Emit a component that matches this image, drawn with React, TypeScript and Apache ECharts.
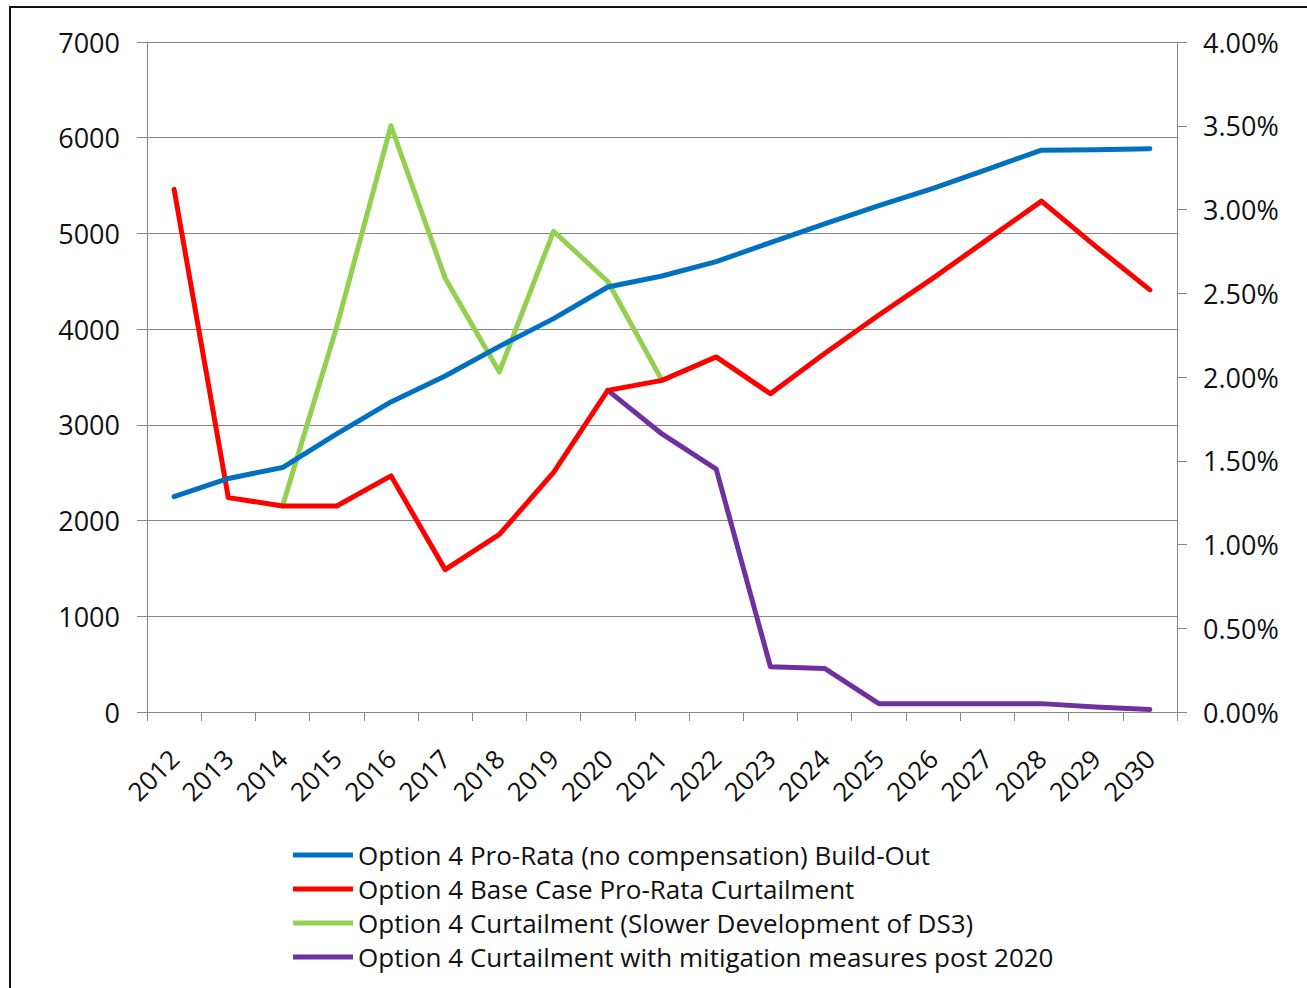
import React, { useEffect, useRef } from "react";
import * as echarts from "echarts";

// Category axis
const years = [
  "2012", "2013", "2014", "2015", "2016", "2017", "2018", "2019", "2020", "2021",
  "2022", "2023", "2024", "2025", "2026", "2027", "2028", "2029", "2030",
];

// Left axis: installed build-out (MW)
const buildOut = [
  2249, 2440, 2554, 2905, 3240, 3510, 3820, 4110, 4440, 4555,
  4705, 4905, 5100, 5290, 5470, 5670, 5870, 5875, 5884,
];

// Right axis: curtailment (%)
const baseCase = [
  3.12, 1.28, 1.23, 1.23, 1.41, 0.85, 1.06, 1.43, 1.92, 1.98,
  2.12, 1.9, 2.14, 2.37, 2.59, 2.82, 3.05, 2.78, 2.52,
];
const slowerDs3 = [
  null, null, 1.23, 2.3, 3.5, 2.59, 2.03, 2.87, 2.57, 1.98,
  null, null, null, null, null, null, null, null, null,
];
const mitigation = [
  null, null, null, null, null, null, null, null, 1.92, 1.66,
  1.45, 0.27, 0.26, 0.05, 0.05, 0.05, 0.05, 0.03, 0.015,
];

const seriesNames = [
  "Option 4 Pro-Rata (no compensation) Build-Out",
  "Option 4 Base Case Pro-Rata Curtailment",
  "Option 4 Curtailment (Slower Development of DS3)",
  "Option 4 Curtailment with mitigation measures post 2020",
];
const seriesColors = ["#0070C0", "#FF0000", "#92D050", "#7030A0"];

const leftTicks = { min: 0, max: 7000, interval: 1000 };
const rightTicks = { min: 0, max: 4, interval: 0.5 };

const FONT = "Open Sans";
const AXIS_GRAY = "#868686";

export default function App() {
  const ref = useRef<HTMLDivElement>(null);

  useEffect(() => {
    if (!ref.current) return;
    const chart = echarts.init(ref.current, null, { renderer: "svg" });

    const lineSeries = (idx: number, data: (number | null)[], yAxisIndex: number) => ({
      name: seriesNames[idx],
      type: "line",
      yAxisIndex,
      data,
      symbol: "none",
      showSymbol: false,
      connectNulls: false,
      lineStyle: { color: seriesColors[idx], width: 5, cap: "round", join: "round" },
      itemStyle: { color: seriesColors[idx] },
      z: 10 - idx,
    });

    chart.setOption({
      animation: false,
      backgroundColor: "#ffffff",
      textStyle: { fontFamily: FONT },
      grid: { left: 147, right: 130, top: 42, bottom: 276, containLabel: false },
      graphic: [
        {
          type: "rect",
          shape: { x: 10, y: 7, width: 1310, height: 1000 },
          style: { fill: "none", stroke: "#111111", lineWidth: 2 },
          silent: true,
          z: 100,
        },
      ],
      legend: {
        orient: "vertical",
        left: 293,
        top: 838,
        itemWidth: 60,
        itemHeight: 5,
        itemGap: 0,
        padding: 0,
        icon: "rect",
        data: seriesNames.map((n, i) => ({
          name: n,
          itemStyle: { color: seriesColors[i] },
        })),
        textStyle: {
          fontFamily: FONT,
          fontSize: 26,
          color: "#111111",
          lineHeight: 34,
          padding: [0, 0, 0, 0],
        },
      },
      xAxis: {
        type: "category",
        data: years,
        boundaryGap: true,
        axisLine: { lineStyle: { color: AXIS_GRAY, width: 1 } },
        axisTick: { show: true, length: 9, lineStyle: { color: AXIS_GRAY } },
        axisLabel: {
          rotate: 45,
          margin: 42,
          fontFamily: FONT,
          fontSize: 26,
          color: "#111111",
          interval: 0,
        },
      },
      yAxis: [
        {
          type: "value",
          position: "left",
          ...leftTicks,
          axisLine: { show: true, lineStyle: { color: AXIS_GRAY, width: 1 } },
          axisTick: { show: true, length: 10, lineStyle: { color: AXIS_GRAY } },
          splitLine: { show: true, lineStyle: { color: AXIS_GRAY, width: 1 } },
          axisLabel: {
            margin: 27,
            fontFamily: FONT,
            fontSize: 27,
            color: "#111111",
            formatter: (v: number) => String(v),
          },
        },
        {
          type: "value",
          position: "right",
          ...rightTicks,
          axisLine: { show: true, lineStyle: { color: AXIS_GRAY, width: 1 } },
          axisTick: { show: true, length: 10, lineStyle: { color: AXIS_GRAY } },
          splitLine: { show: false },
          axisLabel: {
            margin: 26,
            fontFamily: FONT,
            fontSize: 27,
            color: "#111111",
            formatter: (v: number) => v.toFixed(2) + "%",
          },
        },
      ],
      series: [
        lineSeries(0, buildOut, 0),
        lineSeries(1, baseCase, 1),
        lineSeries(2, slowerDs3, 1),
        lineSeries(3, mitigation, 1),
      ],
    });

    return () => chart.dispose();
  }, []);

  return (
    <div
      ref={ref}
      style={{ position: "fixed", left: 0, top: 0, width: 1307, height: 988, background: "#fff" }}
    />
  );
}
